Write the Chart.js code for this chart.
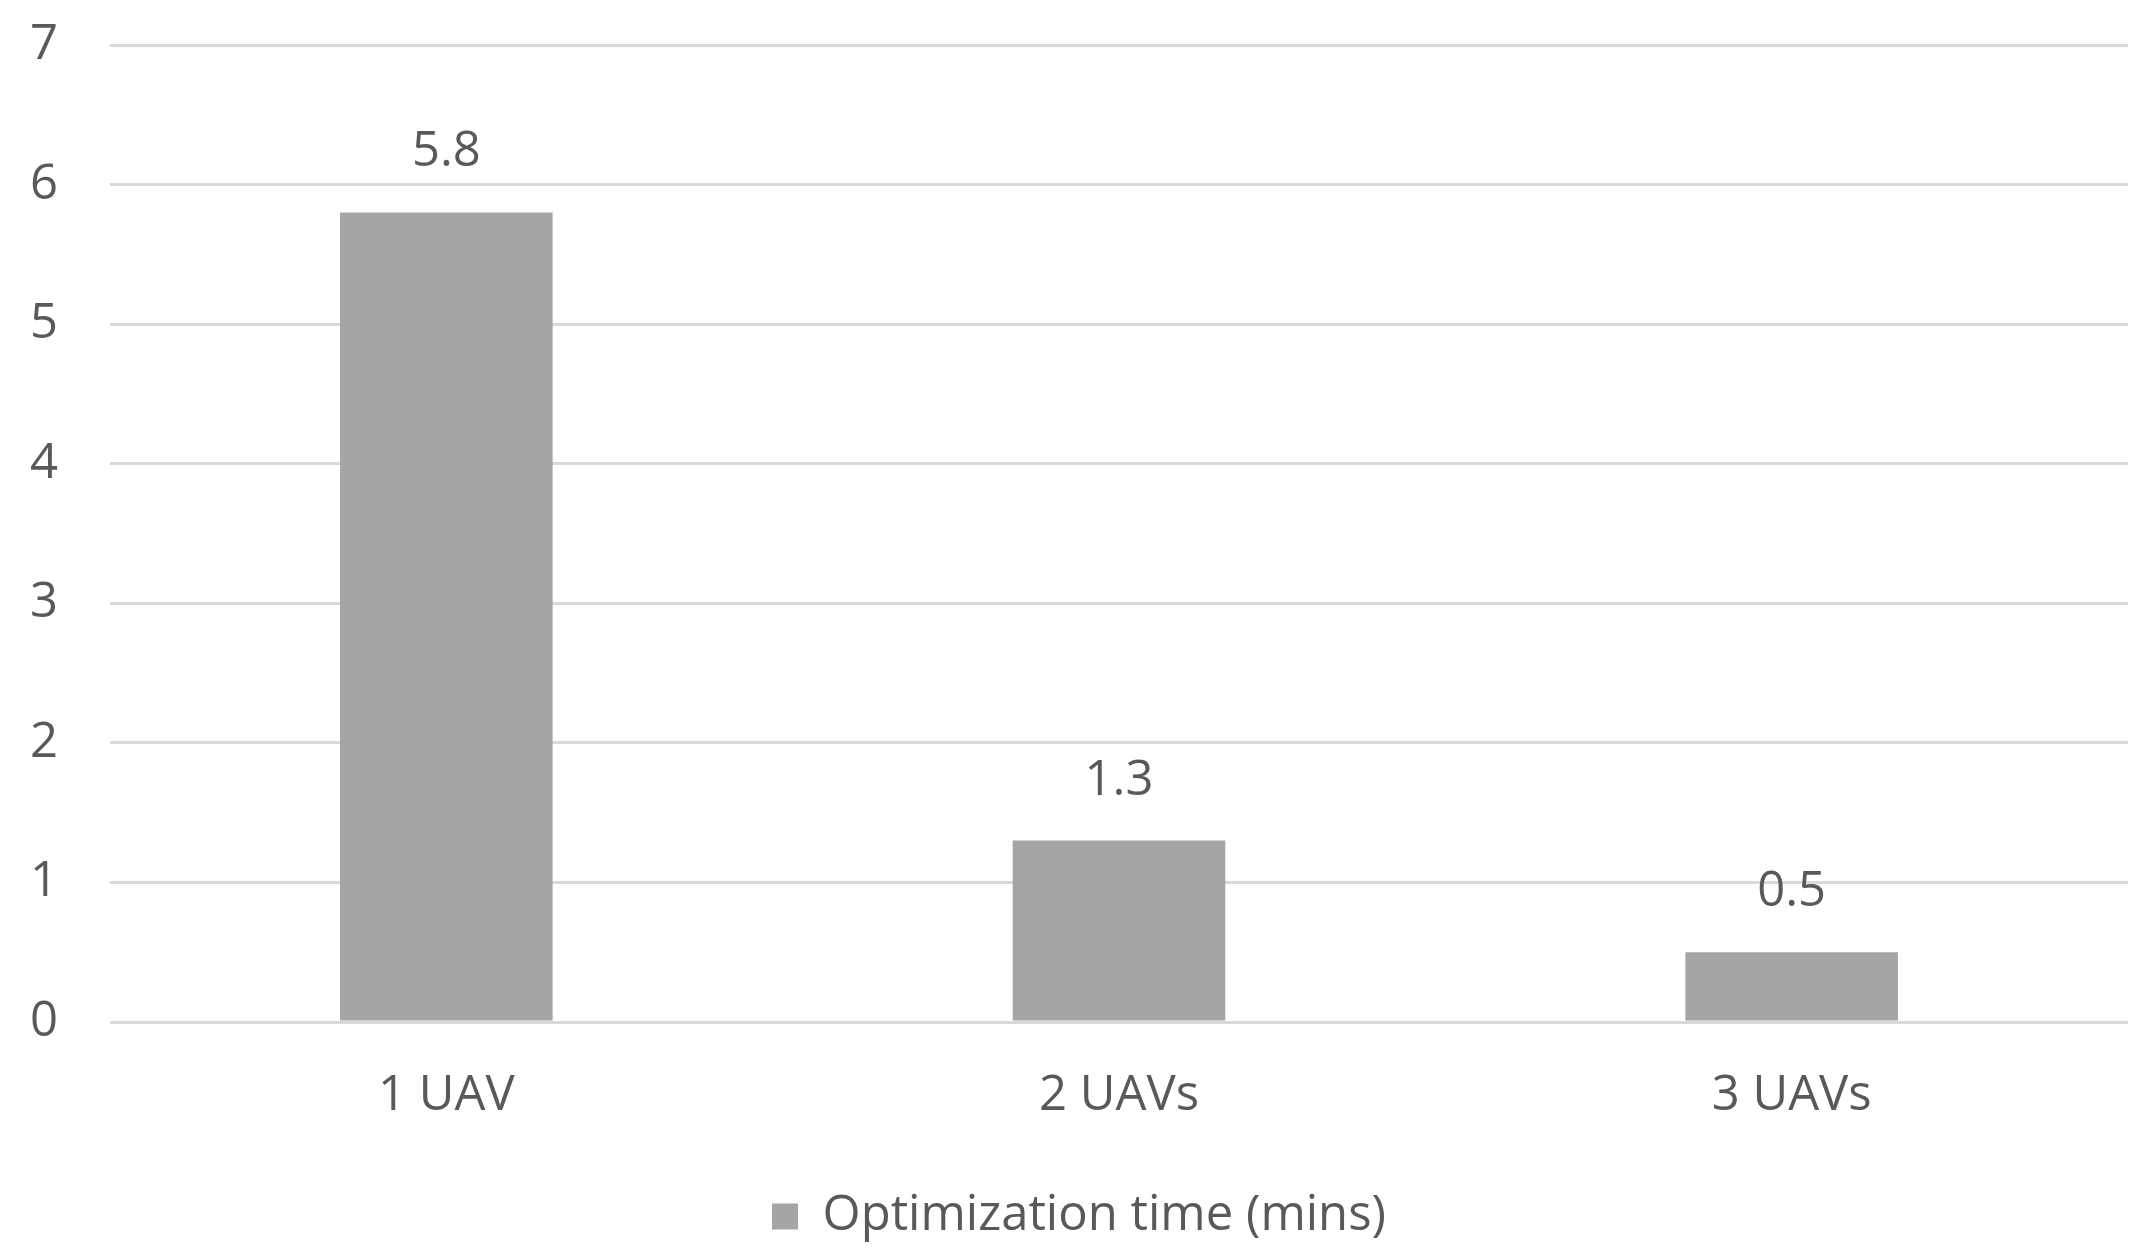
<!DOCTYPE html>
<html>
<head>
<meta charset="utf-8">
<script src="https://cdn.jsdelivr.net/npm/chart.js@4"></script>
<style>
  html, body { margin: 0; padding: 0; background: #ffffff; }
  #wrap { width: 2150px; height: 1260px; }
</style>
</head>
<body>
<div id="wrap"><canvas id="chart" width="2150" height="1260"></canvas></div>
<script>
// Chart data
const categories = ['1 UAV', '2 UAVs', '3 UAVs'];
const optimizationTime = [5.8, 1.3, 0.5];
const seriesLabel = 'Optimization time (mins)';
const yTicks = [0, 1, 2, 3, 4, 5, 6, 7];

const textColor = '#595959';
const barColor = '#a5a5a5';
const gridColor = '#d9d9d9';
const fontFamily = '"Open Sans", "Noto Sans", sans-serif';
const fontSize = 49;

// Value labels above each bar
const valueLabels = {
    id: 'valueLabels',
    afterDatasetsDraw(chart) {
        const ctx = chart.ctx;
        const meta = chart.getDatasetMeta(0);
        ctx.save();
        ctx.font = fontSize + 'px ' + fontFamily;
        ctx.fillStyle = textColor;
        ctx.textAlign = 'center';
        ctx.textBaseline = 'middle';
        meta.data.forEach((bar, i) => {
            ctx.fillText(optimizationTime[i].toFixed(1), bar.x, bar.y - 60);
        });
        ctx.restore();
    }
};

new Chart(document.getElementById('chart'), {
    type: 'bar',
    data: {
        labels: categories,
        datasets: [{
            label: seriesLabel,
            data: optimizationTime,
            backgroundColor: barColor,
            borderWidth: 0,
            categoryPercentage: 1.0,
            barPercentage: 0.316
        }]
    },
    options: {
        responsive: false,
        animation: false,
        layout: {
            padding: { top: 45, right: 22, bottom: 9, left: 30 }
        },
        plugins: {
            tooltip: { enabled: false },
            legend: {
                position: 'bottom',
                labels: {
                    color: textColor,
                    font: { family: fontFamily, size: fontSize },
                    boxWidth: 26,
                    boxHeight: 26,
                    padding: 10
                }
            }
        },
        scales: {
            x: {
                grid: { display: false, drawTicks: false },
                border: { display: false },
                ticks: {
                    color: textColor,
                    font: { family: fontFamily, size: fontSize },
                    padding: 45
                },
                afterFit(scale) { scale.height = 160; }
            },
            y: {
                min: 0,
                max: 7,
                grid: { color: gridColor, lineWidth: 3, drawTicks: false },
                border: { display: false },
                ticks: {
                    color: textColor,
                    font: { family: fontFamily, size: fontSize },
                    stepSize: 1,
                    padding: 0,
                    crossAlign: 'far',
                    callback: (v) => yTicks.includes(v) ? String(v) : ''
                },
                afterFit(scale) { scale.width = 80; }
            }
        }
    },
    plugins: [valueLabels]
});
</script>
</body>
</html>
